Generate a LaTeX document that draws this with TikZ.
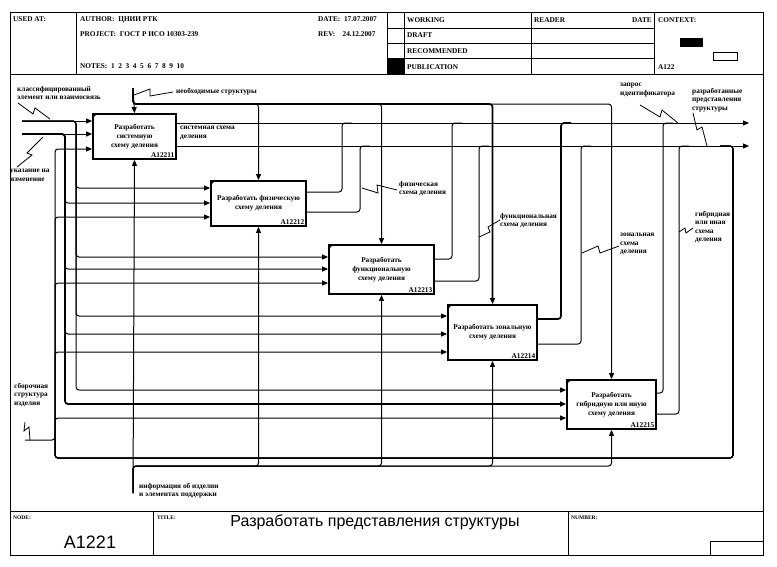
\documentclass[tikz,border=0pt]{standalone}
\usepackage{fontspec}
\setmainfont{Liberation Serif}
\newfontfamily\arialf{Liberation Sans}
\usetikzlibrary{arrows.meta}
\tikzset{
 box/.style={draw, line width=1.8pt, fill=white, inner sep=1pt, align=center, font=\bfseries\fontsize{7.3}{9}\selectfont},
 idl/.style={inner sep=0pt, font=\bfseries\fontsize{7.3}{8}\selectfont},
 flow/.style={line width=1pt, rounded corners=3pt},
 thk/.style={line width=1.7pt},
 tip/.style={-{Triangle[length=6pt,width=5pt]}},
 squig/.style={line width=0.8pt},
 lbl/.style={font=\bfseries\fontsize{7.3}{8.5}\selectfont, align=left, inner sep=0pt, anchor=north west},
 hdr/.style={font=\bfseries\fontsize{7.3}{8}\selectfont, inner sep=0pt, anchor=base west},
 small/.style={font=\bfseries\fontsize{5.5}{6}\selectfont, inner sep=0pt, anchor=base west},
 frm/.style={line width=1pt},
}
\begin{document}
\begin{tikzpicture}[x=1pt,y=-1pt]
\useasboundingbox (0,0) rectangle (777,566);
\fill[white] (0,0) rectangle (777,566);
% ---------- frame ----------
\draw[frm] (10,12) rectangle (763,555);
\draw[frm] (10,74) -- (763,74);
\draw[frm] (76,12) -- (76,74);
\draw[frm] (387,12) -- (387,74);
\draw[frm] (404,12) -- (404,74);
\draw[frm] (531,12) -- (531,74);
\draw[frm] (654,12) -- (654,74);
\draw[frm] (387,28) -- (654,28);
\draw[frm] (387,43) -- (654,43);
\draw[frm] (387,58) -- (654,58);
\fill (387,58) rectangle (404,74);
\fill (680,38) rectangle (703,47);
\draw[line width=0.9pt] (713,52) rectangle (737,60);
\draw[frm] (10,511) -- (763,511);
\draw[frm] (153,511) -- (153,555);
\draw[frm] (568,511) -- (568,555);
\draw[frm] (710,541) rectangle (763,555);
% ---------- header text ----------
\node[hdr] (usedat) at (13,21) {USED AT:};
\node[hdr] (author) at (80,21) {AUTHOR:\ \ ЦНИИ РТК};
\node[hdr] (project) at (80,36) {PROJECT:\ \ ГОСТ Р ИСО 10303-239};
\node[hdr] (notes) at (80,68) {NOTES:\ \ 1\ \ 2\ \ 3\ \ 4\ \ 5\ \ 6\ \ 7\ \ 8\ \ 9\ \ 10};
\node[hdr] (date) at (318,21) {DATE:\ \ 17.07.2007};
\node[hdr] (rev) at (318,36) {REV:\ \ \ \ 24.12.2007};
\node[hdr] (working) at (407,22) {WORKING};
\node[hdr] (draft) at (407,37) {DRAFT};
\node[hdr] (recom) at (407,53) {RECOMMENDED};
\node[hdr] (publ) at (407,69) {PUBLICATION};
\node[hdr] (reader) at (534,22) {READER};
\node[hdr,anchor=base east] (rdate) at (652,22) {DATE};
\node[hdr] (context) at (658,22) {CONTEXT:};
\node[hdr] (ctxnum) at (658,69) {A122};
% ---------- footer ----------
\node[small] (nodel) at (13,519) {NODE:};
\node[small] (titlel) at (157,519) {TITLE:};
\node[small] (numl) at (571,519) {NUMBER:};
\node[font=\arialf\fontsize{18}{19}\selectfont, inner sep=0pt] (nodenum) at (90,542) {A1221};
\node[font=\arialf\fontsize{16}{17}\selectfont, inner sep=0pt] (title) at (375,522) {Разработать представления структуры};
% ---------- boxes ----------
\node[box, minimum width=83pt, minimum height=45pt] (b1) at (134.5,136.5) {Разработать\\системную\\схему деления};
\node[box, minimum width=95pt, minimum height=45pt] (b2) at (258.5,203.5) {Разработать физическую\\схему деления};
\node[box, minimum width=105pt, minimum height=49pt] (b3) at (381.5,269.5) {Разработать\\функциональную\\схему деления};
\node[box, minimum width=89pt, minimum height=55pt] (b4) at (492.5,332.5) {Разработать зональную\\схему деления};
\node[box, minimum width=89pt, minimum height=49pt] (b5) at (611.5,404.5) {Разработать\\гибридную или иную\\схему деления};
\foreach \b/\id in {b1/A12211,b2/A12212,b3/A12213,b4/A12214,b5/A12215}{
  \node[idl, anchor=south east] (\b id) at ([xshift=-2.5pt,yshift=2.5pt]\b.south east) {\id};
  \draw[line width=0.9pt] ([yshift=-5pt]\b.north west) -- ([xshift=5pt]\b.north west);
}
% ---------- free ends ----------
\coordinate (inA) at (22,121);
\coordinate (inB) at (22,134);
\coordinate (inC) at (25,440);
\coordinate (ctl) at (133,88);
\coordinate (mech) at (133,493);
\coordinate (outA) at (749,123);
\coordinate (outB) at (749,146);
\coordinate (fb) at (720,146);
% ---------- inputs ----------
\draw[flow,tip] (inA) -- (b1.west |- 0,121);
\draw[flow,tip] (inA) -- (76,121) -- (76,188) -- (b2.west |- 0,188);
\draw[flow,tip] (inA) -- (76,121) -- (76,257) -- (b3.west |- 0,257);
\draw[flow,tip] (inA) -- (76,121) -- (76,316) -- (b4.west |- 0,316);
\draw[flow,tip] (inA) -- (76,121) -- (76,390) -- (b5.west |- 0,390);
\draw[flow,tip] (inB) -- (b1.west |- 0,134);
\draw[flow,tip] (inB) -- (65,134) -- (65,203) -- (b2.west |- 0,203);
\draw[flow,tip] (inB) -- (65,134) -- (65,269) -- (b3.west |- 0,269);
\draw[flow,tip] (inB) -- (65,134) -- (65,334) -- (b4.west |- 0,334);
\draw[flow,thk,tip] (inB) -- (65,134) -- (65,404) -- (b5.west |- 0,404);
% feedback loop feeding the third inputs
\draw[flow,tip] (fb) -- (733,146) -- (733,458) -- (55,458) -- (55,149) -- (b1.west |- 0,149);
\draw[flow,tip] (fb) -- (733,146) -- (733,458) -- (55,458) -- (55,217) -- (b2.west |- 0,217);
\draw[flow,tip] (fb) -- (733,146) -- (733,458) -- (55,458) -- (55,283) -- (b3.west |- 0,283);
\draw[flow,tip] (fb) -- (733,146) -- (733,458) -- (55,458) -- (55,352) -- (b4.west |- 0,352);
\draw[flow,tip] (fb) -- (733,146) -- (733,458) -- (55,458) -- (55,418) -- (b5.west |- 0,418);
\draw[flow,thk] (733,150) -- (733,455);
\draw[flow] (inC) -- (55,440) -- (55,430);
% ---------- mechanisms ----------
\draw[flow,tip] (mech) -- (b1.south);
\draw[flow,tip] (mech) -- (133,466) -- (b2.south |- 0,466) -- (b2.south);
\draw[flow,tip] (mech) -- (133,466) -- (b3.south |- 0,466) -- (b3.south);
\draw[flow,tip] (mech) -- (133,466) -- (b4.south |- 0,466) -- (b4.south);
\draw[flow,tip] (mech) -- (133,466) -- (b5.south |- 0,466) -- (b5.south);
% ---------- controls ----------
\draw[flow,tip] (ctl) -- (b1.north);
\draw[flow,tip] (ctl) -- (133,104) -- (b2.north |- 0,104) -- (b2.north);
\draw[flow,tip] (ctl) -- (133,104) -- (b3.north |- 0,104) -- (b3.north);
\draw[flow,thk,tip] (ctl) -- (133,104) -- (b4.north |- 0,104) -- (b4.north);
\draw[flow,tip] (ctl) -- (133,104) -- (b5.north |- 0,104) -- (b5.north);
% ---------- outputs ----------
\draw[flow,tip] (b1.east |- 0,123) -- (outA);
\draw[flow,tip] (b1.east |- 0,146) -- (outB);
\draw[flow] (b2.east |- 0,192) -- (342,192) -- (342,123) -- (352,123);
\draw[flow] (b2.east |- 0,212) -- (360,212) -- (360,146) -- (370,146);
\draw[flow] (b3.east |- 0,259) -- (452,259) -- (452,123) -- (462,123);
\draw[flow] (b3.east |- 0,281) -- (479,281) -- (479,146) -- (489,146);
\draw[flow,thk] (b4.east |- 0,319) -- (561,319) -- (561,123) -- (571,123);
\draw[flow] (b4.east |- 0,344) -- (581,344) -- (581,146) -- (591,146);
\draw[flow] (b5.east |- 0,393) -- (663,393) -- (663,123) -- (673,123);
\draw[flow] (b5.east |- 0,414) -- (679,414) -- (679,146) -- (689,146);
% ---------- labels ----------
\node[lbl] (lA) at (17,86) {классифицированный\\элемент или взаимосвязь};
\draw[squig] (18,103) -- (33,114) -- (35,108) -- (50,119);
\node[lbl] (lB) at (10,169) {указание на\\изменение};
\draw[squig] (17,167) -- (32,155) -- (27,153) -- (43,137);
\node[lbl] (lC) at (14,383) {сборочная\\структура\\изделия};
\draw[squig] (25,422) -- (24,431) -- (29,427) -- (30,440);
\node[lbl] (lctl) at (176,88) {необходимые структуры};
\draw[squig] (134,95) -- (150,89) -- (150,96) -- (173,92);
\node[lbl] (lmech) at (139,483) {информация об изделии\\и элементах поддержки};
\node[lbl] (lo1) at (180,126) {системная схема\\деления};
\node[lbl] (lo2) at (399,181) {физическая\\схема деления};
\draw[squig] (362,188) -- (378,193) -- (377,185) -- (397,190);
\node[lbl] (lo3) at (500,213) {функциональная\\схема деления};
\draw[squig] (479,237) -- (490,232) -- (488,227) -- (500,220);
\node[lbl] (lo4) at (620,233) {зональная\\схема\\деления};
\draw[squig] (582,253) -- (598,246) -- (600,253) -- (619,246);
\node[lbl] (lo5) at (695,211) {гибридная\\или иная\\схема\\деления};
\draw[squig] (679,232) -- (685,228) -- (686,233) -- (693,228);
\node[lbl] (lo6) at (620,83) {запрос\\идентификатора};
\draw[squig] (640,105) -- (660,117) -- (662,110) -- (678,123);
\node[lbl] (lo7) at (692,88) {разработанные\\представления\\структуры};
\draw[squig] (693,113) -- (697,130) -- (702,127) -- (707,146);
\end{tikzpicture}
\end{document}
